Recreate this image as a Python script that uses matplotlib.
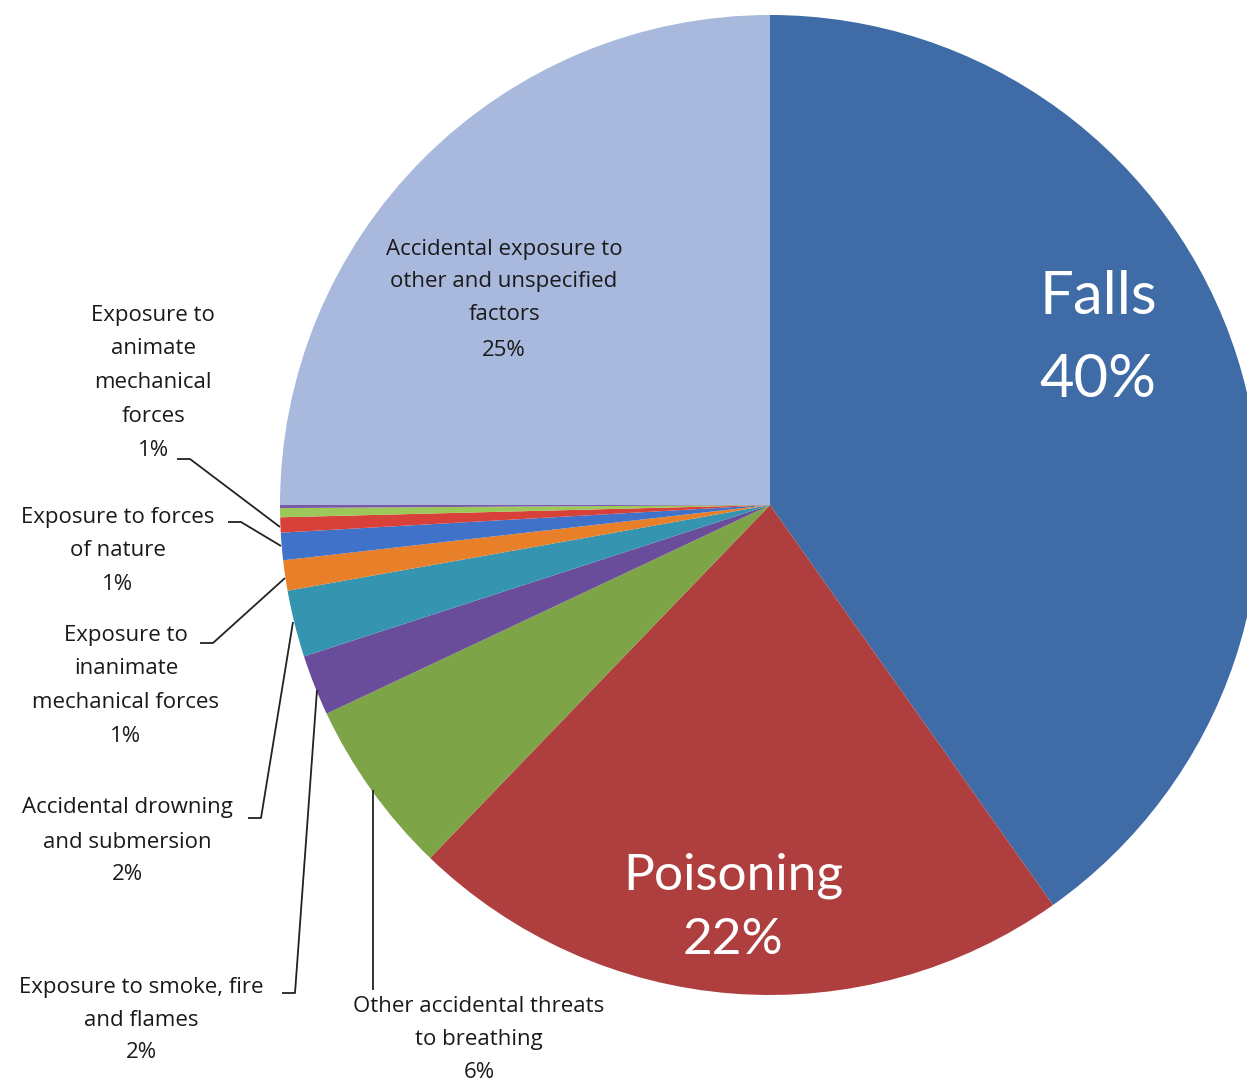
import matplotlib
matplotlib.use("Agg")
import matplotlib.pyplot as plt

# ---- data ----
categories = ["Falls", "Poisoning", "Other accidental threats to breathing",
              "Exposure to smoke, fire and flames", "Accidental drowning and submersion",
              "Exposure to inanimate mechanical forces", "Exposure to forces of nature",
              "Exposure to animate mechanical forces", "Other (unlabelled) 1",
              "Other (unlabelled) 2", "Accidental exposure to other and unspecified factors"]
values = [40.2, 22.0, 5.8, 2.0, 2.2, 1.0, 0.9, 0.5, 0.3, 0.1, 25.0]
pct_labels = ["40%", "22%", "6%", "2%", "2%", "1%", "1%", "1%", "", "", "25%"]
colors = ["#3F6BA6", "#AF3F3F", "#7EA448", "#6A4D9A", "#3594B0", "#E8802A",
          "#3F72C8", "#D8403A", "#9CC85A", "#7A5AA8", "#A8B9DD"]

W, H = 1247, 1084
fig = plt.figure(figsize=(W / 100, H / 100), dpi=100)
ax = fig.add_axes([0, 0, 1, 1])
ax.set_xlim(0, W)
ax.set_ylim(0, H)
ax.set_aspect("equal")
ax.axis("off")

cx, cy, R = 770, H - 505, 490
ax.pie(values, colors=colors, startangle=90, counterclock=False,
       center=(cx, cy), radius=R, frame=True,
       wedgeprops=dict(linewidth=0))
ax.set_xlim(0, W)
ax.set_ylim(0, H)
ax.axis("off")

FONT = ["Open Sans", "DejaVu Sans"]
BIG = ["Lato", "DejaVu Sans"]

def Y(y):
    return H - y

def lines_text(x, ys, texts, size=16, color="#1a1a1a"):
    for y, t in zip(ys, texts):
        ax.text(x, Y(y), t, ha="center", va="center", fontsize=size,
                color=color, family=FONT)

# big labels
ax.text(1098, Y(297), categories[0], ha="center", va="center", fontsize=43,
        color="white", family=BIG)
ax.text(1098, Y(380), pct_labels[0], ha="center", va="center", fontsize=43,
        color="white", family=BIG)
ax.text(733, Y(876), categories[1], ha="center", va="center", fontsize=37,
        color="white", family=BIG)
ax.text(733, Y(940), pct_labels[1], ha="center", va="center", fontsize=37,
        color="white", family=BIG)

# small labels
lines_text(504, [249, 282, 315, 350],
           ["Accidental exposure to", "other and unspecified", "factors", pct_labels[10]])
lines_text(153, [316, 349, 382, 416, 450],
           ["Exposure to", "animate", "mechanical", "forces", pct_labels[7]])
lines_text(118, [518, 551, 584],
           ["Exposure to forces", "of nature", pct_labels[6]])
lines_text(126, [636, 669, 702, 736],
           ["Exposure to", "inanimate", "mechanical forces", pct_labels[5]])
lines_text(127, [808, 842, 875],
           ["Accidental drowning", "and submersion", pct_labels[4]])
lines_text(141, [987, 1020, 1053],
           ["Exposure to smoke, fire", "and flames", pct_labels[3]])
lines_text(479, [1007, 1040, 1073],
           ["Other accidental threats", "to breathing", pct_labels[2]])

# leader lines
leaders = [
    [(177, 459), (190, 459), (280, 527)],
    [(228, 522), (241, 522), (281, 546)],
    [(200, 643), (213, 643), (285, 578)],
    [(248, 818), (261, 818), (293, 622)],
    [(282, 993), (295, 993), (317, 690)],
    [(373, 990), (373, 790)],
]
for pts in leaders:
    xs = [p[0] for p in pts]
    ys = [Y(p[1]) for p in pts]
    ax.plot(xs, ys, color="#222222", lw=1.3, solid_capstyle="butt")

fig.savefig("out.png", dpi=100, facecolor="white")
